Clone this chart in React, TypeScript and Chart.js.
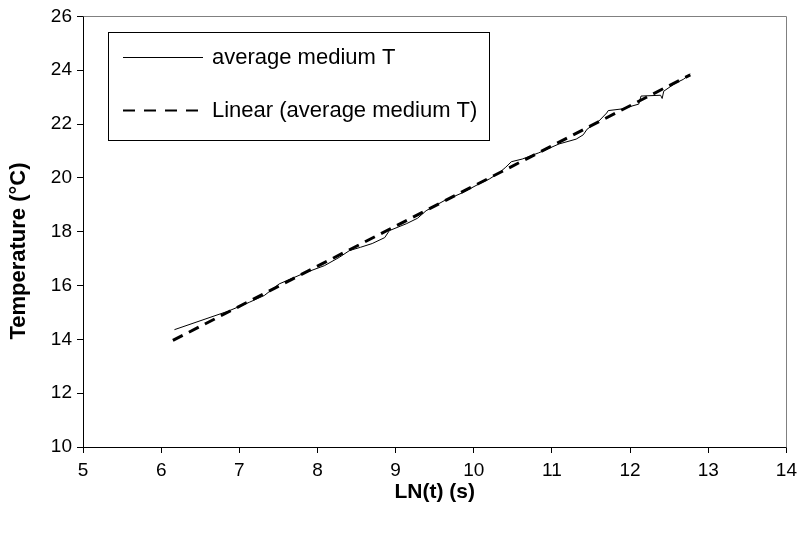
import React, { useEffect, useRef } from "react";
import { Chart, registerables } from "chart.js";

Chart.register(...registerables);

// Measured series: ln(time) vs average medium temperature
const lnTime = [
  6.17, 6.86, 7.13, 7.32, 7.51, 7.83, 8.09, 8.28, 8.41, 8.55, 8.70, 8.86, 8.92,
  9.14, 9.28, 9.39, 9.62, 9.85, 10.07, 10.2, 10.33, 10.41, 10.48, 10.62, 10.83,
  11.09, 11.31, 11.4, 11.45, 11.6, 11.7, 11.72, 11.89, 12.11, 12.14, 12.39,
  12.41, 12.43, 12.58, 12.68, 12.77,
];
const avgTemp = [
  14.36, 15.05, 15.38, 15.63, 16.06, 16.46, 16.74, 17.05, 17.3, 17.42, 17.56,
  17.78, 18.04, 18.3, 18.5, 18.78, 19.15, 19.44, 19.78, 19.96, 20.2, 20.4,
  20.6, 20.7, 20.93, 21.26, 21.44, 21.6, 21.81, 22.11, 22.41, 22.5, 22.56,
  22.74, 23.04, 23.07, 22.95, 23.22, 23.52, 23.66, 23.86,
];

// Linear trend line: T = slope * ln(t) + intercept
const trendSlope = 1.491;
const trendIntercept = 4.79;
const trendRange = [6.15, 12.77];

const xTicksRange = [5, 14];
const yTicksRange = [10, 26];

const seriesLabel = "average medium T";
const trendLabel = "Linear (average medium T)";
const xTitle = "LN(t) (s)";
const yTitle = "Temperature (\u00B0C)";

const FONT = "Arial, 'Liberation Sans', sans-serif";

const framePlugin = {
  id: "frame",
  beforeDatasetsDraw(chart: any) {
    const { ctx, chartArea } = chart;
    const l = Math.round(chartArea.left) + 0.5;
    const t = Math.round(chartArea.top) + 0.5;
    const r = Math.round(chartArea.right) + 0.5;
    const b = Math.round(chartArea.bottom) + 0.5;
    ctx.save();
    ctx.strokeStyle = "#808080";
    ctx.lineWidth = 1;
    ctx.beginPath();
    ctx.moveTo(l, t);
    ctx.lineTo(r, t);
    ctx.lineTo(r, b);
    ctx.stroke();
    ctx.restore();
  },
};

const yTitlePlugin = {
  id: "yTitle",
  afterDraw(chart: any) {
    const { ctx } = chart;
    ctx.save();
    ctx.translate(19, 251);
    ctx.rotate(-Math.PI / 2);
    ctx.fillStyle = "#000000";
    ctx.font = `bold 22px ${FONT}`;
    ctx.textAlign = "center";
    ctx.textBaseline = "middle";
    ctx.fillText(yTitle, 0, 0);
    ctx.restore();
  },
};

const legendPlugin = {
  id: "boxLegend",
  afterDraw(chart: any) {
    const { ctx } = chart;
    const ds = chart.data.datasets;
    const bx = 108.5, by = 32.5, bw = 381, bh = 108;
    ctx.save();
    ctx.fillStyle = "#ffffff";
    ctx.fillRect(bx, by, bw, bh);
    ctx.strokeStyle = "#000000";
    ctx.lineWidth = 1;
    ctx.strokeRect(bx, by, bw, bh);
    const rows = [57, 110];
    ds.forEach((d: any, i: number) => {
      const y = rows[i];
      ctx.beginPath();
      ctx.strokeStyle = "#000000";
      ctx.lineWidth = i === 0 ? 1 : 2;
      ctx.setLineDash(i === 0 ? [] : [12, 9]);
      ctx.moveTo(123, y + 0.5);
      ctx.lineTo(203, y + 0.5);
      ctx.stroke();
      ctx.setLineDash([]);
      ctx.fillStyle = "#000000";
      ctx.font = `22px ${FONT}`;
      ctx.textBaseline = "middle";
      ctx.textAlign = "left";
      ctx.fillText(d.label, 212, y + 1);
    });
    ctx.restore();
  },
};

export default function App() {
  const ref = useRef<HTMLCanvasElement | null>(null);

  useEffect(() => {
    if (!ref.current) return;
    const data = lnTime.map((x, i) => ({ x, y: avgTemp[i] }));
    const trend = trendRange.map((x) => ({ x, y: trendSlope * x + trendIntercept }));
    const chart = new Chart(ref.current, {
      type: "line",
      data: {
        datasets: [
          {
            label: seriesLabel,
            data,
            borderColor: "#000000",
            borderWidth: 1,
            pointRadius: 0,
            tension: 0,
            fill: false,
          },
          {
            label: trendLabel,
            data: trend,
            borderColor: "#000000",
            borderWidth: 3,
            borderDash: [11, 7],
            pointRadius: 0,
            tension: 0,
            fill: false,
          },
        ],
      },
      options: {
        responsive: false,
        animation: false,
        layout: { padding: { top: 15, right: 15, left: 0, bottom: 0 } },
        plugins: { legend: { display: false }, tooltip: { enabled: false } },
        scales: {
          x: {
            type: "linear",
            min: xTicksRange[0],
            max: xTicksRange[1],
            ticks: {
              stepSize: 1,
              color: "#000000",
              font: { family: FONT, size: 19 },
              padding: 6,
              maxRotation: 0,
            },
            grid: {
              drawOnChartArea: false,
              drawTicks: true,
              tickLength: 6,
              color: "#000000",
            },
            border: { color: "#000000", width: 1 },
            title: {
              display: true,
              text: xTitle,
              color: "#000000",
              font: { family: FONT, size: 21, weight: "bold" },
              padding: { top: 0, bottom: 28 },
            },
            afterFit(scale: any) {
              scale.height = 86;
            },
          },
          y: {
            type: "linear",
            min: yTicksRange[0],
            max: yTicksRange[1],
            ticks: {
              stepSize: 2,
              color: "#000000",
              font: { family: FONT, size: 19 },
              padding: 5,
            },
            grid: {
              drawOnChartArea: false,
              drawTicks: true,
              tickLength: 6,
              color: "#000000",
            },
            border: { color: "#000000", width: 1 },
            title: { display: false },
            afterFit(scale: any) {
              scale.width = 83;
            },
          },
        },
      },
      plugins: [framePlugin, yTitlePlugin, legendPlugin],
    });
    return () => chart.destroy();
  }, []);

  return (
    <canvas
      ref={ref}
      width={803}
      height={533}
      style={{ position: "absolute", left: 0, top: 0, display: "block", background: "#ffffff" }}
    />
  );
}
